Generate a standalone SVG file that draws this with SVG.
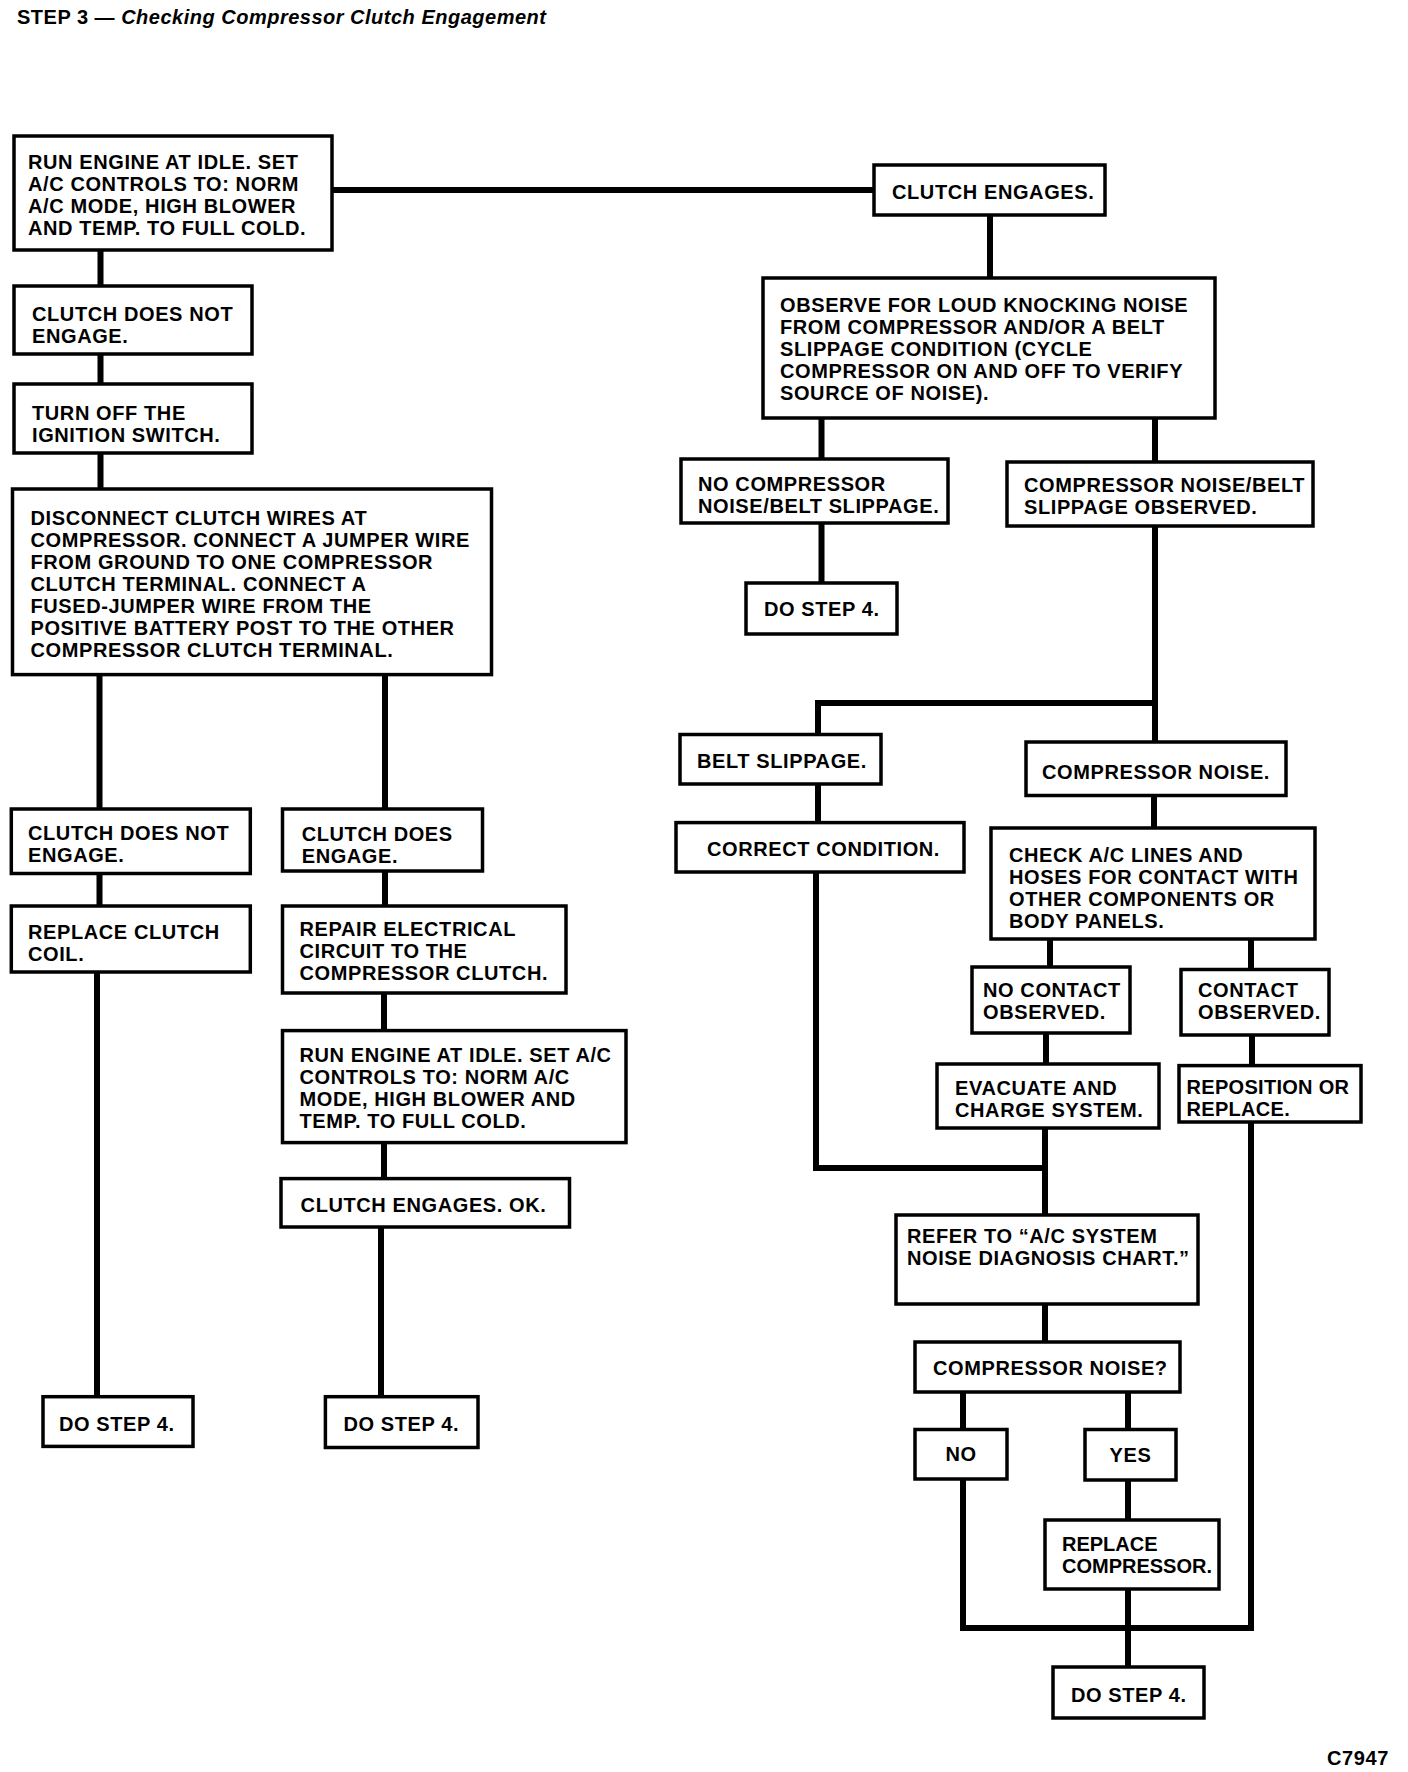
<svg xmlns="http://www.w3.org/2000/svg" width="1408" height="1772" viewBox="0 0 1408 1772">
<style>
.b{fill:#fff;stroke:#000;stroke-width:3.5}
.t{font-family:"Liberation Sans",Arial,sans-serif;font-weight:bold;font-size:20px;letter-spacing:0.6px;fill:#000}
.t0{letter-spacing:0px}
.t3{letter-spacing:0.3px}
.c{stroke:#000;stroke-width:6;fill:none;stroke-linejoin:miter}
.ttl{font-family:"Liberation Sans",Arial,sans-serif;font-weight:bold;font-size:20px;letter-spacing:0.5px;fill:#000}
</style>
<rect width="1408" height="1772" fill="#fff"/>
<text class="ttl" x="17" y="24">STEP 3 — <tspan font-style="italic">Checking Compressor Clutch Engagement</tspan></text>
<g id="connectors">
<path class="c" d="M332 190H874"/>
<path class="c" d="M990 215V278"/>
<path class="c" d="M821.5 418V583"/>
<path class="c" d="M1155 418V742"/>
<path class="c" d="M1155 703H818V823"/>
<path class="c" d="M816 872V1168H1045"/>
<path class="c" d="M1154 795V828"/>
<path class="c" d="M1050 939V967"/>
<path class="c" d="M1251 939V970"/>
<path class="c" d="M1046 1033V1064"/>
<path class="c" d="M1045 1128V1215"/>
<path class="c" d="M1252 1035V1066"/>
<path class="c" d="M1251 1122V1628H963V1479"/>
<path class="c" d="M1045 1304V1342"/>
<path class="c" d="M963 1392V1430"/>
<path class="c" d="M1128 1392V1430"/>
<path class="c" d="M1128 1480V1667"/>
<path class="c" d="M100.5 250V489"/>
<path class="c" d="M99.5 674V906"/>
<path class="c" d="M97 972V1397"/>
<path class="c" d="M385 674V906"/>
<path class="c" d="M384 993V1179"/>
<path class="c" d="M381 1227V1397"/>
</g>
<g id="n1"><rect class="b" x="14" y="136" width="318" height="114"/><text class="t" x="28" y="169">RUN ENGINE AT IDLE. SET</text><text class="t" x="28" y="191">A/C CONTROLS TO: NORM</text><text class="t" x="28" y="213">A/C MODE, HIGH BLOWER</text><text class="t" x="28" y="235">AND TEMP. TO FULL COLD.</text></g>
<g id="n2"><rect class="b" x="874" y="165" width="231" height="50"/><text class="t" x="892" y="199">CLUTCH ENGAGES.</text></g>
<g id="n3"><rect class="b" x="763" y="278" width="452" height="140"/><text class="t" x="780" y="312">OBSERVE FOR LOUD KNOCKING NOISE</text><text class="t" x="780" y="334">FROM COMPRESSOR AND/OR A BELT</text><text class="t" x="780" y="356">SLIPPAGE CONDITION (CYCLE</text><text class="t" x="780" y="378">COMPRESSOR ON AND OFF TO VERIFY</text><text class="t" x="780" y="400">SOURCE OF NOISE).</text></g>
<g id="n4"><rect class="b" x="681" y="459" width="267" height="64"/><text class="t" x="698" y="491">NO COMPRESSOR</text><text class="t" x="698" y="513">NOISE/BELT SLIPPAGE.</text></g>
<g id="n5"><rect class="b" x="746" y="583" width="151" height="51"/><text class="t" x="764" y="616">DO STEP 4.</text></g>
<g id="n6"><rect class="b" x="1007" y="462" width="306" height="64"/><text class="t" x="1024" y="492">COMPRESSOR NOISE/BELT</text><text class="t" x="1024" y="514">SLIPPAGE OBSERVED.</text></g>
<g id="n7"><rect class="b" x="680" y="734.5" width="201" height="49.5"/><text class="t" x="697" y="767.5">BELT SLIPPAGE.</text></g>
<g id="n8"><rect class="b" x="676" y="822.6" width="288" height="49.4"/><text class="t" x="707" y="855.6">CORRECT CONDITION.</text></g>
<g id="n9"><rect class="b" x="1026" y="742" width="260" height="53.5"/><text class="t" x="1042" y="779">COMPRESSOR NOISE.</text></g>
<g id="n10"><rect class="b" x="991" y="828" width="324" height="111"/><text class="t" x="1009" y="862.4">CHECK A/C LINES AND</text><text class="t" x="1009" y="884.4">HOSES FOR CONTACT WITH</text><text class="t" x="1009" y="906.4">OTHER COMPONENTS OR</text><text class="t" x="1009" y="928.4">BODY PANELS.</text></g>
<g id="n11"><rect class="b" x="972" y="967" width="158" height="66"/><text class="t" x="983" y="997">NO CONTACT</text><text class="t" x="983" y="1019">OBSERVED.</text></g>
<g id="n12"><rect class="b" x="1181" y="969.5" width="148" height="65.5"/><text class="t" x="1198" y="997">CONTACT</text><text class="t" x="1198" y="1019">OBSERVED.</text></g>
<g id="n13"><rect class="b" x="937" y="1064" width="222" height="64"/><text class="t" x="955" y="1095">EVACUATE AND</text><text class="t" x="955" y="1117">CHARGE SYSTEM.</text></g>
<g id="n14"><rect class="b" x="1179" y="1065.6" width="182" height="56.4"/><text class="t t3" x="1186.5" y="1094">REPOSITION OR</text><text class="t t3" x="1186.5" y="1116">REPLACE.</text></g>
<g id="n15"><rect class="b" x="896" y="1215" width="302" height="89"/><text class="t" x="907" y="1243">REFER TO “A/C SYSTEM</text><text class="t" x="907" y="1265">NOISE DIAGNOSIS CHART.”</text></g>
<g id="n16"><rect class="b" x="915" y="1342" width="265" height="50"/><text class="t" x="933" y="1375">COMPRESSOR NOISE?</text></g>
<g id="n17"><rect class="b" x="915" y="1429.5" width="92" height="49.5"/><text class="t" x="961" y="1461" text-anchor="middle">NO</text></g>
<g id="n18"><rect class="b" x="1085" y="1429.5" width="91" height="50.5"/><text class="t" x="1130.5" y="1462" text-anchor="middle">YES</text></g>
<g id="n19"><rect class="b" x="1045" y="1520" width="174" height="69"/><text class="t t0" x="1062" y="1550.6">REPLACE</text><text class="t t0" x="1062" y="1573">COMPRESSOR.</text></g>
<g id="n20"><rect class="b" x="1053" y="1667" width="151" height="51"/><text class="t" x="1071" y="1702">DO STEP 4.</text></g>
<g id="n21"><rect class="b" x="14" y="286" width="238" height="68"/><text class="t" x="32" y="321">CLUTCH DOES NOT</text><text class="t" x="32" y="343">ENGAGE.</text></g>
<g id="n22"><rect class="b" x="14" y="384" width="238" height="69"/><text class="t" x="32" y="419.5">TURN OFF THE</text><text class="t" x="32" y="442">IGNITION SWITCH.</text></g>
<g id="n23"><rect class="b" x="12.5" y="489" width="479" height="185.6"/><text class="t" x="30.5" y="524.5">DISCONNECT CLUTCH WIRES AT</text><text class="t" x="30.5" y="546.5">COMPRESSOR. CONNECT A JUMPER WIRE</text><text class="t" x="30.5" y="568.5">FROM GROUND TO ONE COMPRESSOR</text><text class="t" x="30.5" y="590.5">CLUTCH TERMINAL. CONNECT A</text><text class="t" x="30.5" y="612.5">FUSED-JUMPER WIRE FROM THE</text><text class="t" x="30.5" y="634.5">POSITIVE BATTERY POST TO THE OTHER</text><text class="t" x="30.5" y="656.5">COMPRESSOR CLUTCH TERMINAL.</text></g>
<g id="n24"><rect class="b" x="11.3" y="809" width="239" height="64.5"/><text class="t" x="28" y="840">CLUTCH DOES NOT</text><text class="t" x="28" y="862">ENGAGE.</text></g>
<g id="n25"><rect class="b" x="282.5" y="809" width="200" height="62"/><text class="t" x="301.7" y="841">CLUTCH DOES</text><text class="t" x="301.7" y="863">ENGAGE.</text></g>
<g id="n26"><rect class="b" x="11.3" y="906" width="239" height="66"/><text class="t" x="28" y="939">REPLACE CLUTCH</text><text class="t" x="28" y="961">COIL.</text></g>
<g id="n27"><rect class="b" x="43" y="1396.7" width="150" height="49.7"/><text class="t" x="59" y="1431">DO STEP 4.</text></g>
<g id="n28"><rect class="b" x="282.5" y="906" width="283.5" height="87"/><text class="t" x="299.5" y="936">REPAIR ELECTRICAL</text><text class="t" x="299.5" y="958">CIRCUIT TO THE</text><text class="t" x="299.5" y="980">COMPRESSOR CLUTCH.</text></g>
<g id="n29"><rect class="b" x="282.5" y="1030.6" width="343.5" height="112"/><text class="t" x="299.5" y="1062.4">RUN ENGINE AT IDLE. SET A/C</text><text class="t" x="299.5" y="1084.4">CONTROLS TO: NORM A/C</text><text class="t" x="299.5" y="1106.4">MODE, HIGH BLOWER AND</text><text class="t" x="299.5" y="1128.4">TEMP. TO FULL COLD.</text></g>
<g id="n30"><rect class="b" x="281" y="1178.6" width="288.5" height="48.4"/><text class="t" x="300.6" y="1211.6">CLUTCH ENGAGES. OK.</text></g>
<g id="n31"><rect class="b" x="325.4" y="1396.7" width="152.6" height="50.8"/><text class="t" x="343.5" y="1431">DO STEP 4.</text></g>
<text class="t" x="1389" y="1765" text-anchor="end">C7947</text>
</svg>
